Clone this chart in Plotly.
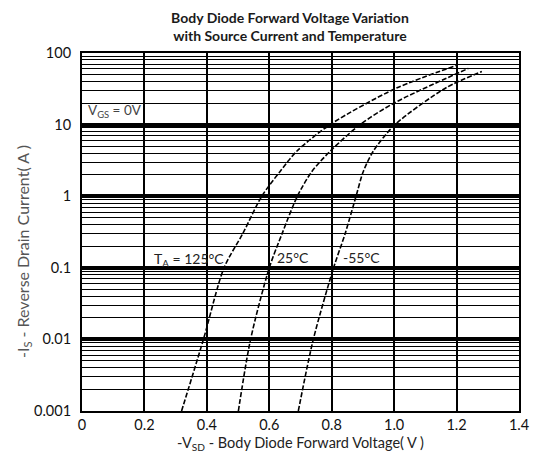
import plotly.graph_objects as go

# Data
i_125 = [0.001, 0.01, 0.1, 0.3, 1, 2.2, 4.25, 10, 32, 67]
v_125 = [0.319, 0.389, 0.455, 0.515, 0.576, 0.634, 0.688, 0.795, 1.005, 1.200]

i_25 = [0.001, 0.01, 0.1, 0.3, 1, 2.2, 4.25, 10, 20, 61]
v_25 = [0.501, 0.540, 0.600, 0.641, 0.690, 0.736, 0.795, 0.891, 1.000, 1.238]

i_m55 = [0.001, 0.01, 0.1, 0.3, 1, 2.2, 4.25, 10, 33, 55]
v_m55 = [0.693, 0.741, 0.806, 0.843, 0.878, 0.901, 0.933, 1.003, 1.168, 1.281]

x_ticks = [0, 0.2, 0.4, 0.6, 0.8, 1.0, 1.2, 1.4]
x_tick_text = ["0", "0.2", "0.4", "0.6", "0.8", "1.0", "1.2", "1.4"]
y_ticks = [0.001, 0.01, 0.1, 1, 10, 100]
y_tick_text = ["0.001", "0.01", "0.1", "1", "10", "100"]

FONT = "Lato, 'Open Sans', sans-serif"

fig = go.Figure()
for v, i in [(v_125, i_125), (v_25, i_25), (v_m55, i_m55)]:
    fig.add_trace(go.Scatter(
        x=v, y=i, mode="lines",
        line=dict(color="black", width=1.6, dash="5px,2px", shape="spline", smoothing=0.8),
        showlegend=False, hoverinfo="skip"))

fig.update_layout(
    width=534, height=457,
    margin=dict(l=82, r=15, t=53, b=46),
    paper_bgcolor="white", plot_bgcolor="white",
    font=dict(family=FONT, size=12, color="black"),
    title=dict(text="<b>Body Diode Forward Voltage Variation</b><br><b>with Source Current and Temperature</b>",
               x=0.543, xanchor="center", y=0.950, yanchor="top",
               font=dict(family=FONT, size=14, color="#1a1a1a")),
)

fig.update_xaxes(
    range=[0, 1.4], tickvals=x_ticks, ticktext=x_tick_text,
    showgrid=True, gridcolor="black", gridwidth=2,
    showline=True, linecolor="black", linewidth=2, mirror=True,
    ticks="", zeroline=False, ticklabelstandoff=0, automargin=False,
    tickfont=dict(size=14.5, color="#111"),
    title=dict(text="-V<sub>SD</sub> - Body Diode Forward Voltage( V )", font=dict(size=14.5, color="#222"), standoff=5),
)
fig.update_yaxes(
    type="log", range=[-3, 2], tickvals=y_ticks, ticktext=y_tick_text,
    showgrid=True, gridcolor="black", gridwidth=3.5,
    minor=dict(showgrid=True, dtick="D1", gridcolor="black", gridwidth=1.4),
    showline=True, linecolor="black", linewidth=2, mirror=True,
    ticks="", zeroline=False, ticklabelstandoff=6, automargin=False,
    tickfont=dict(size=14.5, color="#111"),
)

# y-axis title as rotated text
fig.add_annotation(x=-0.135, y=0.444, xref="paper", yref="paper", xanchor="center", yanchor="middle",
                   showarrow=False, textangle=-90,
                   text="-I<sub>S</sub> - Reverse Drain Current( A )", font=dict(size=16, color="#555"))

fig.add_annotation(x=0.013, y=1.19, xref="x", yref="y", xanchor="left", yanchor="middle", showarrow=False,
                   text="V<sub>GS</sub> = 0V", font=dict(size=13.5, color="#444"))
fig.add_annotation(x=0.224, y=-0.88, xref="x", yref="y", xanchor="left", yanchor="middle", showarrow=False,
                   text="T<sub>A</sub> = 125°C", font=dict(size=14, color="#222"))
fig.add_annotation(x=0.618, y=-0.86, xref="x", yref="y", xanchor="left", yanchor="middle", showarrow=False,
                   text="25°C", font=dict(size=14, color="#222"))
fig.add_annotation(x=0.830, y=-0.86, xref="x", yref="y", xanchor="left", yanchor="middle", showarrow=False,
                   text="-55°C", font=dict(size=14, color="#222"))

fig.write_html(
    "out.html",
    config={"displayModeBar": False},
    post_script="document.body.style.margin='0';document.body.style.overflow='hidden';",
)
